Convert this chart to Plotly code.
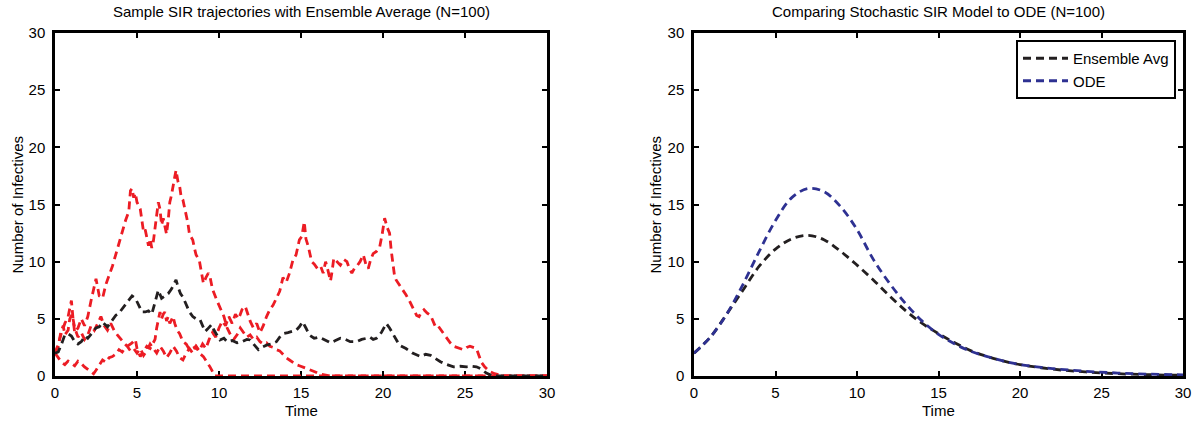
import plotly.graph_objects as go

# ---------------- data: left panel (sample trajectories) ----------------
traj_a_t = [0.0, 0.2, 0.4, 0.6, 0.8, 1.0, 1.1, 1.2, 1.4, 1.6, 1.8, 2.0, 2.2, 2.4, 2.5, 2.7, 2.9, 3.1, 3.3, 3.5,
            3.7, 3.9, 4.1, 4.3, 4.5, 4.6, 4.7, 4.8, 4.9, 5.0, 5.2, 5.3, 5.4, 5.5, 5.6, 5.7, 5.8, 5.9, 6.0, 6.1,
            6.2, 6.3, 6.4, 6.5, 6.6, 6.7, 6.8, 6.9, 7.0, 7.1, 7.2, 7.3, 7.38, 7.5, 7.6, 7.7, 7.8, 8.0, 8.1, 8.2,
            8.4, 8.5, 8.6, 8.8, 8.9, 9.05, 9.2, 9.35, 9.45, 9.6, 9.86, 10.0, 10.3, 10.5, 10.7, 10.9, 11.1, 11.3, 11.5, 11.7,
            11.9, 12.1, 12.3, 12.5, 12.7, 12.9, 13.1, 13.3, 13.5, 13.7, 13.9, 14.1, 14.3, 14.5, 14.7, 14.9,
            15.1, 15.3, 15.5, 15.8, 16.1, 16.4, 16.8, 30.0]
traj_a_v = [2.0, 2.8, 3.8, 4.6, 5.2, 6.6, 5.0, 3.8, 4.2, 5.0, 4.4, 5.2, 6.6, 8.0, 8.5, 7.0, 6.8, 8.0, 8.8, 9.6,
            10.6, 11.6, 12.8, 13.6, 14.4, 16.2, 16.4, 15.6, 16.0, 15.2, 14.6, 13.6, 12.6, 12.8, 12.2, 11.4, 12.0, 11.2, 11.8, 12.8,
            13.8, 15.2, 14.6, 13.2, 13.8, 13.0, 12.4, 13.6, 15.2, 15.8, 16.8, 17.4, 18.0, 17.0, 16.6, 15.6, 15.4, 14.2, 13.4, 12.4,
            11.9, 11.2, 10.6, 10.1, 9.4, 8.1, 8.6, 9.0, 8.7, 7.6, 6.65, 6.2, 5.2, 4.2, 3.6, 3.2, 3.6, 4.2, 3.8, 3.4,
            3.6, 3.2, 3.4, 3.0, 2.8, 2.9, 2.6, 2.5, 2.3, 2.2, 1.9, 1.6, 1.4, 1.2, 1.0, 0.9,
            0.8, 0.7, 0.55, 0.4, 0.2, 0.1, 0.0, 0.0]

traj_b_t = [0.0, 0.2, 0.4, 0.6, 0.8, 1.0, 1.2, 1.4, 1.6, 1.8, 2.0, 2.2, 2.35, 2.5, 2.7, 2.9, 3.1, 3.3, 3.5, 3.7,
            3.9, 4.1, 4.3, 4.5, 4.7, 4.9, 5.0, 5.2, 5.4, 5.6, 5.8, 6.0, 6.1, 6.2, 6.3, 6.4, 6.5, 6.6, 6.7, 6.8,
            6.9, 7.0, 7.2, 7.3, 7.45, 7.6, 7.8, 8.0, 8.2, 8.4, 8.6, 8.8, 9.05, 9.2, 9.45, 9.6, 9.76, 30.0]
traj_b_v = [2.0, 1.6, 1.2, 1.0, 1.3, 1.1, 0.9, 1.3, 1.1, 0.8, 0.6, 0.4, 0.2, 0.5, 1.0, 1.4, 1.2, 1.6, 1.7, 1.9,
            2.3, 2.1, 2.5, 2.7, 2.9, 3.2, 2.4, 1.7, 2.2, 2.6, 2.4, 3.0, 3.2, 4.2, 4.9, 5.6, 5.0, 5.4, 5.6, 4.8,
            5.2, 4.6, 5.2, 4.6, 4.0, 3.7, 3.0, 2.8, 2.3, 2.4, 2.6, 2.0, 1.7, 1.4, 0.8, 0.4, 0.0, 0.0]

traj_c_t = [0.0, 0.2, 0.35, 0.5, 0.6, 0.8, 0.9, 1.05, 1.2, 1.4, 1.6, 1.8, 2.0, 2.2, 2.4, 2.6, 2.8, 3.0, 3.2, 3.4,
            3.6, 3.8, 4.0, 4.2, 4.4, 4.6, 4.8, 5.0, 5.2, 5.4, 5.6, 5.8, 6.0, 6.2, 6.4, 6.6, 6.8, 7.0, 7.2, 7.4,
            7.6, 7.8, 8.0, 8.2, 8.4, 8.6, 8.8, 9.0, 9.2, 9.4, 9.6, 9.8, 10.0, 10.2, 10.4, 10.6, 10.8, 11.0, 11.2, 11.4,
            11.6, 11.7, 11.9, 12.1, 12.3, 12.5, 12.7, 12.9, 13.1, 13.3, 13.5, 13.7, 13.9, 14.1, 14.3, 14.5, 14.7, 14.9, 15.05, 15.2,
            15.3, 15.45, 15.65, 15.8, 16.0, 16.2, 16.35, 16.5, 16.65, 16.8, 16.9, 17.0, 17.2, 17.4, 17.6, 17.8, 17.95, 18.1, 18.25, 18.4,
            18.6, 18.8, 18.95, 19.1, 19.25, 19.4, 19.6, 19.8, 19.95, 20.1, 20.25, 20.4, 20.5, 20.6, 20.7, 20.8, 21.0, 21.2, 21.4, 21.6,
            21.8, 22.05, 22.2, 22.35, 22.5, 22.7, 22.9, 23.05, 23.2, 23.35, 23.5, 23.7, 23.9, 24.1, 24.3, 24.5, 24.7, 24.9, 25.1, 25.3,
            25.5, 25.7, 25.85, 26.0, 26.2, 26.5, 26.8, 27.1, 27.4, 30.0]
traj_c_v = [2.0, 2.6, 3.8, 4.4, 3.6, 4.0, 5.0, 5.4, 4.2, 3.4, 3.8, 3.2, 3.6, 4.4, 4.0, 4.6, 5.2, 4.4, 4.0, 4.6,
            4.0, 3.6, 3.2, 2.9, 2.6, 2.2, 2.4, 2.0, 2.4, 1.8, 2.2, 2.8, 2.4, 2.0, 2.6, 2.2, 1.6, 2.0, 2.6, 2.2,
            1.6, 1.4, 2.0, 2.4, 2.0, 2.6, 2.2, 2.8, 2.4, 3.2, 3.8, 3.4, 4.2, 4.8, 4.4, 5.2, 4.6, 5.4, 5.0, 5.8,
            6.1, 5.6, 4.8, 4.2, 4.6, 3.8, 4.4, 5.2, 5.8, 6.2, 6.8, 7.4, 8.6, 8.2, 9.0, 10.1, 10.6, 11.9, 12.2, 13.5,
            12.0, 11.3, 10.0, 9.8, 9.4, 9.6, 9.0, 10.0, 9.2, 8.3, 9.2, 10.3, 10.0, 9.7, 10.2, 10.0, 9.4, 9.0, 9.4, 9.6,
            10.0, 10.6, 9.8, 9.4, 10.2, 10.7, 10.9, 11.3, 12.4, 13.8, 13.0, 12.5, 11.0, 9.6, 8.8, 8.4, 8.0, 7.5, 7.1, 6.6,
            6.0, 5.3, 5.2, 5.6, 5.8, 5.5, 5.3, 4.8, 4.3, 4.4, 4.1, 3.6, 3.2, 2.9, 2.6, 2.5, 2.4, 2.3, 2.5, 2.6,
            2.5, 2.4, 1.8, 1.2, 0.8, 0.4, 0.2, 0.1, 0.0, 0.0]

avg_t = [0.0, 0.2, 0.4, 0.6, 0.8, 1.0, 1.2, 1.4, 1.6, 1.85, 2.0, 2.2, 2.5, 2.7, 2.9, 3.05, 3.2, 3.45, 3.7, 3.9,
         4.1, 4.3, 4.5, 4.7, 4.9, 5.1, 5.3, 5.5, 5.7, 5.9, 6.1, 6.3, 6.5, 6.7, 6.9, 7.1, 7.3, 7.38, 7.5, 7.65,
         7.8, 8.0, 8.2, 8.4, 8.6, 8.85, 9.0, 9.15, 9.3, 9.45, 9.55, 9.7, 9.85, 10.06, 10.3, 10.5, 10.8, 11.1, 11.4, 11.7,
         11.9, 12.1, 12.4, 12.6, 12.9, 13.2, 13.5, 13.7, 13.9, 14.2, 14.5, 14.7, 14.9, 15.1, 15.3, 15.5, 15.8, 16.1, 16.4, 16.8,
         17.1, 17.4, 17.7, 18.0, 18.4, 18.7, 19.0, 19.2, 19.4, 19.6, 19.9, 20.2, 20.4, 20.6, 20.8, 21.0, 21.4, 21.8, 22.3, 22.6,
         22.9, 23.2, 23.5, 23.9, 24.3, 24.7, 25.1, 25.4, 25.7, 26.0, 26.3, 26.7, 30.0]
avg_v = [2.0, 2.1, 2.8, 3.6, 3.7, 3.5, 3.0, 2.8, 3.0, 3.5, 3.3, 3.7, 4.2, 4.3, 4.7, 4.5, 4.3, 4.8, 5.3, 5.5,
         5.9, 6.2, 6.6, 7.0, 6.8, 6.2, 5.6, 5.6, 5.7, 5.4, 6.4, 7.5, 6.8, 7.0, 7.2, 7.6, 8.1, 8.4, 7.8, 7.2,
         6.9, 6.2, 5.6, 5.2, 5.0, 4.9, 4.4, 3.9, 4.1, 4.3, 4.5, 4.0, 3.6, 3.15, 3.3, 3.0, 3.1, 2.9, 3.0, 3.2,
         3.15, 2.8, 2.3, 2.5, 2.7, 2.8, 3.0, 3.4, 3.7, 3.8, 3.9, 4.0, 4.3, 4.75, 4.2, 3.6, 3.3, 3.4, 3.2, 2.9,
         3.1, 3.3, 3.2, 3.0, 3.0, 3.2, 3.3, 3.4, 3.2, 3.3, 3.8, 4.6, 4.2, 3.7, 3.1, 2.7, 2.4, 2.0, 1.7, 1.9,
         1.8, 1.5, 1.25, 1.0, 0.8, 0.85, 0.8, 0.85, 0.8, 0.6, 0.25, 0.0, 0.0]

# ---------------- data: right panel (ensemble average vs ODE) ----------------
cmp_t = [0, 1, 2, 3, 4, 5, 6, 7, 8, 9, 10, 11, 12, 13, 14, 15, 16, 17, 18, 19, 20, 22, 24, 26, 28, 30]
ens_avg_v = [2.0, 3.4, 5.4, 7.5, 9.6, 11.1, 12.0, 12.3, 11.9, 10.9, 9.7, 8.4, 7.0, 5.7, 4.6, 3.7, 2.9, 2.2, 1.7, 1.3,
             1.0, 0.6, 0.36, 0.2, 0.11, 0.06]
ode_v = [2.0, 3.4, 5.4, 8.0, 10.9, 13.6, 15.6, 16.4, 16.1, 14.8, 12.8, 10.2, 8.1, 6.3, 4.8, 3.65, 2.8, 2.15, 1.7, 1.3,
         1.0, 0.65, 0.42, 0.26, 0.16, 0.1]

tick_vals = [0, 5, 10, 15, 20, 25, 30]
tick_text = ["0", "5", "10", "15", "20", "25", "30"]

RED = "#ec1c24"
BLACK = "#231f20"
BLUE = "#2e3192"
FONT = "Liberation Sans, Arial, Helvetica, sans-serif"
FS = 15
DASH = "8px,5px"
LW = 2.8

fig = go.Figure()
for tt, vv in [(traj_a_t, traj_a_v), (traj_b_t, traj_b_v), (traj_c_t, traj_c_v)]:
    fig.add_trace(go.Scatter(x=tt, y=vv, mode="lines", line=dict(color=RED, width=LW, dash=DASH),
                             showlegend=False, xaxis="x", yaxis="y"))
fig.add_trace(go.Scatter(x=avg_t, y=avg_v, mode="lines", line=dict(color=BLACK, width=LW, dash=DASH),
                         showlegend=False, xaxis="x", yaxis="y"))

fig.add_trace(go.Scatter(x=cmp_t, y=ens_avg_v, mode="lines", name="Ensemble Avg",
                         line=dict(color=BLACK, width=LW, dash=DASH, shape="spline"), xaxis="x2", yaxis="y2"))
fig.add_trace(go.Scatter(x=cmp_t, y=ode_v, mode="lines", name="ODE",
                         line=dict(color=BLUE, width=LW, dash=DASH, shape="spline"), xaxis="x2", yaxis="y2"))

W, H = 1197, 423
L1, R1 = 55, 547
L2, R2 = 694, 1183
TOP, BOT = 33, 376
PW = R2 - L1

def ax(domain, anchor, standoff):
    return dict(domain=domain, anchor=anchor, range=[0, 30], tickvals=tick_vals, ticktext=tick_text,
                showgrid=False, zeroline=False, showline=True, linecolor="black", linewidth=2.5,
                mirror="ticks", ticks="inside", ticklen=5, tickwidth=2, tickcolor="black",
                tickfont=dict(family=FONT, size=FS, color="black"), ticklabelstandoff=standoff,
                layer="below traces", fixedrange=True, automargin=False)

fig.update_layout(
    width=W, height=H, margin=dict(l=L1, r=W - R2, t=TOP, b=H - BOT, autoexpand=False),
    paper_bgcolor="white", plot_bgcolor="white",
    font=dict(family=FONT, size=FS, color="black"),
    xaxis=ax([0, (R1 - L1) / PW], "y", 1),
    yaxis=ax([0, 1], "x", 4),
    xaxis2=ax([(L2 - L1) / PW, 1], "y2", 1),
    yaxis2=ax([0, 1], "x2", 4),
    showlegend=True,
)

def px(x):
    return (x - L1) / PW

def py(y):
    return (BOT - y) / (BOT - TOP)

fig.update_layout(legend=dict(x=px(1176), xanchor="right", y=py(40), yanchor="top",
                              bgcolor="white", bordercolor="black", borderwidth=2, itemwidth=45,
                              font=dict(family=FONT, size=FS, color="black"), tracegroupgap=0))

ann = []
ann.append(dict(text="Sample SIR trajectories with Ensemble Average (N=100)", x=px((L1 + R1) / 2), y=py(12)))
ann.append(dict(text="Comparing Stochastic SIR Model to ODE (N=100)", x=px((L2 + R2) / 2), y=py(12)))
ann.append(dict(text="Time", x=px((L1 + R1) / 2), y=py(410)))
ann.append(dict(text="Time", x=px((L2 + R2) / 2), y=py(410)))
for a in ann:
    a.update(xref="paper", yref="paper", xanchor="center", yanchor="middle", showarrow=False,
             font=dict(family=FONT, size=FS, color="black"))
for xc in (17, 655):
    ann.append(dict(text="Number of Infectives", x=px(xc), y=py((TOP + BOT) / 2),
                    xref="paper", yref="paper", xanchor="center", yanchor="middle", showarrow=False,
                    textangle=-90, font=dict(family=FONT, size=FS, color="black")))
fig.update_layout(annotations=ann)

fig.write_html("out.html")
